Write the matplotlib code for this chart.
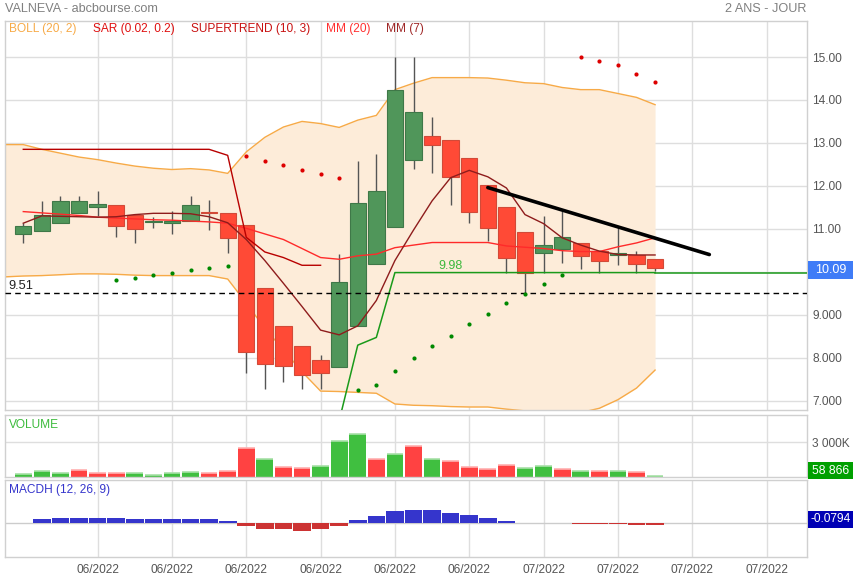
import numpy as np
import matplotlib
matplotlib.use('Agg')
import matplotlib.pyplot as plt
from matplotlib.patches import Rectangle
from matplotlib.transforms import blended_transform_factory

plt.rcParams['font.family'] = ['Liberation Sans', 'DejaVu Sans']

# ---------------- data ----------------
opens  = [10.89, 10.95, 11.14, 11.37, 11.51, 11.55, 11.32, 11.16, 11.14, 11.17,
          11.37, 11.36, 11.09, 9.61, 8.73, 8.26, 7.94, 7.78, 8.74, 10.17,
          11.03, 12.61, 13.17, 13.06, 12.64, 12.01, 11.50, 10.92, 10.43, 10.52,
          10.66, 10.49, 10.38, 10.39, 10.29]
highs  = [11.14, 11.64, 11.77, 11.77, 11.88, 11.55, 11.32, 11.27, 11.41, 11.77,
          11.67, 11.36, 11.09, 9.61, 8.73, 8.26, 8.05, 10.41, 12.58, 12.73,
          15.00, 15.00, 13.60, 13.06, 12.64, 12.01, 11.50, 10.92, 11.29, 11.42,
          10.66, 10.49, 11.03, 10.49, 10.29]
lows   = [10.67, 10.95, 11.14, 11.37, 11.30, 10.81, 10.66, 11.02, 10.89, 11.17,
          10.97, 10.44, 7.65, 7.27, 7.44, 7.27, 7.27, 7.78, 8.74, 10.17,
          11.03, 12.40, 12.30, 11.56, 11.13, 10.72, 9.96, 9.48, 9.98, 10.21,
          10.07, 9.98, 10.16, 9.98, 10.02]
closes = [11.06, 11.33, 11.64, 11.64, 11.57, 11.07, 11.00, 11.18, 11.19, 11.55,
          11.36, 10.78, 8.13, 7.85, 7.80, 7.59, 7.64, 9.76, 11.59, 11.87,
          14.23, 13.71, 12.96, 12.20, 11.38, 11.01, 10.33, 9.97, 10.62, 10.80,
          10.36, 10.24, 10.44, 10.17, 10.09]

# Bollinger (20, 2), index 0..35
boll_upper = [12.96, 12.96, 12.85, 12.76, 12.67, 12.61, 12.53, 12.46, 12.41, 12.38,
              12.40, 12.37, 12.29, 12.79, 13.13, 13.37, 13.50, 13.45, 13.36, 13.53,
              13.64, 14.24, 14.39, 14.52, 14.52, 14.52, 14.51, 14.46, 14.40, 14.38,
              14.29, 14.24, 14.24, 14.15, 14.06, 13.89]
boll_lower = [9.88, 9.90, 9.91, 9.93, 9.95, 9.95, 9.94, 9.92, 9.91, 9.91,
              9.91, 9.91, 9.83, 9.27, 8.68, 8.18, 7.67, 7.22, 7.21, 7.19,
              7.17, 6.92, 6.89, 6.88, 6.86, 6.85, 6.85, 6.80, 6.76, 6.72,
              6.70, 6.72, 6.82, 7.02, 7.29, 7.71]

# moving averages, index 1..35
mm20 = [11.40, 11.37, 11.34, 11.31, 11.27, 11.25, 11.23, 11.21, 11.20, 11.18,
        11.16, 11.13, 11.01, 10.88, 10.75, 10.54, 10.33, 10.29, 10.37, 10.41,
        10.56, 10.62, 10.68, 10.68, 10.68, 10.68, 10.60, 10.57, 10.54, 10.49,
        10.47, 10.47, 10.58, 10.67, 10.79]
mm7 = [11.13, 11.30, 11.29, 11.28, 11.27, 11.28, 11.33, 11.36, 11.36, 11.35,
       11.28, 11.14, 10.75, 10.26, 9.73, 9.19, 8.64, 8.53, 8.74, 9.33,
       10.26, 10.97, 11.65, 12.19, 12.36, 12.21, 11.95, 11.33, 11.12, 10.79,
       10.62, 10.48, 10.40, 10.39, 10.39]

nan = float('nan')
# Supertrend (10, 3), index 1..35
st_down = [12.85, 12.85, 12.85, 12.85, 12.85, 12.85, 12.85, 12.85, 12.85, 12.85,
           12.85, 12.71, 10.80, 10.46, 10.33, 10.15, 10.15] + [nan] * 18
st_up = [nan] * 17 + [6.53, 8.29, 8.47] + [9.98] * 15

# SAR (0.02, 0.2), index 1..35
sar_above = [nan] * 12 + [12.69, 12.57, 12.48, 12.37, 12.27, 12.19] + [nan] * 12 + \
            [15.00, 14.91, 14.81, 14.60, 14.41]
sar_below = [nan] * 5 + [9.81, 9.85, 9.93, 9.98, 10.04, 10.09, 10.13] + [nan] * 6 + \
            [7.25, 7.36, 7.68, 7.98, 8.26, 8.51, 8.78, 9.02, 9.28, 9.48, 9.72, 9.93] + [nan] * 5

# volume (thousands) and colours
volume = [204, 466, 291, 583, 291, 320, 320, 146, 320, 408,
          320, 524, 2505, 1515, 845, 728, 961, 3146, 3728, 1515,
          1981, 2680, 1544, 1398, 845, 641, 1049, 728, 903, 670,
          466, 524, 466, 379, 59]
vol_up = ['g', 'g', 'g', 'r', 'r', 'r', 'g', 'g', 'g', 'g',
          'r', 'r', 'r', 'g', 'r', 'r', 'g', 'g', 'g', 'r',
          'g', 'r', 'g', 'r', 'r', 'r', 'r', 'g', 'g', 'r',
          'g', 'r', 'g', 'r', 'g']

# MACD histogram (12, 26, 9)
macdh = [nan, 0.22, 0.27, 0.27, 0.27, 0.24, 0.22, 0.22, 0.22, 0.22,
         0.22, 0.13, -0.13, -0.25, -0.29, -0.35, -0.29, -0.11, 0.16, 0.35,
         0.60, 0.65, 0.65, 0.49, 0.40, 0.25, 0.13, 0.01, 0.0, 0.0,
         -0.03, -0.03, -0.03, -0.08, -0.0794]

trend_x = [26, 37.92]
trend_y = [11.96, 10.40]
support_level = 9.51
st_level = 9.98
last_price = 10.09
last_volume = '58 866'
last_macdh = '-0.0794'

date_ticks = [5, 9, 13, 17, 21, 25, 29, 33, 37, 41]
date_labels = ['06/2022'] * 6 + ['07/2022'] * 4
price_ticks = [7, 8, 9, 11, 12, 13, 14, 15]
price_labels = ['7.000', '8.000', '9.000', '11.00', '12.00', '13.00', '14.00', '15.00']

# ---------------- figure ----------------
W, H = 855, 580
FS = 8.6
fig = plt.figure(figsize=(W / 100, H / 100), dpi=100)
fig.patch.set_facecolor('white')


def rect(x0, y0, x1, y1):
    return [x0 / W, 1 - y1 / H, (x1 - x0) / W, (y1 - y0) / H]


def label_box(y0, y1, text, color, fs):
    fig.patches.append(Rectangle((808 / W, 1 - y1 / H), 45 / W, (y1 - y0) / H,
                                 transform=fig.transFigure, fc=color, ec='none', zorder=10))
    fig.text(830.5 / W, 1 - (y0 + y1) / 2 / H, text, fontsize=fs, color='white',
             va='center', ha='center', zorder=11)


ax = fig.add_axes(rect(4.7, 20.5, 806.7, 410))
axv = fig.add_axes(rect(4.7, 414.7, 806.7, 476.7))
axm = fig.add_axes(rect(4.7, 480.3, 806.7, 557.3))

XMAX = 43.16
GRID = '#dedede'
for a in (ax, axv, axm):
    a.set_xlim(0, XMAX)
    for s in a.spines.values():
        s.set_color('#d0d0d0')
        s.set_linewidth(1)
    a.set_xticks([])
    a.tick_params(length=0)
    for gx in date_ticks:
        a.axvline(gx, color=GRID, lw=1, zorder=0)
    a.yaxis.tick_right()

# main
ax.set_ylim(6.78, 15.85)
for gy in range(7, 16):
    ax.axhline(gy, color=GRID, lw=1, zorder=0)
ax.set_yticks(price_ticks)
ax.set_yticklabels(price_labels, fontsize=FS, color='#555555')
ax.tick_params(axis='y', pad=4)

xb = np.arange(0, 36)
xi = np.arange(1, 36)
ax.fill_between(xb, boll_lower, boll_upper, color='#fdecd9', lw=0, zorder=1)
ax.plot(xb, boll_upper, color='#f7aa47', lw=1, zorder=2)
ax.plot(xb, boll_lower, color='#f7aa47', lw=1, zorder=2)
ax.plot([0, 0], [boll_lower[0], boll_upper[0]], color='#f7aa47', lw=1.5, zorder=2)

ax.plot(xi, mm20, color='#ff2a2a', lw=1, zorder=4)
ax.plot(xi, mm7, color='#8e1c1c', lw=1, zorder=4)
ax.plot(xi, st_down, color='#b80000', lw=1.0, zorder=4)
ax.plot(xi, st_up, color='#1a9a1a', lw=1.1, zorder=4)
ax.plot([35, XMAX], [st_level, st_level], color='#1a9a1a', lw=1.1, zorder=4)

ax.scatter(xi, sar_above, s=9, color='#dd0000', zorder=5, linewidths=0)
ax.scatter(xi, sar_below, s=9, color='#008800', zorder=5, linewidths=0)

ax.axhline(support_level, color='black', lw=1, ls=(0, (4, 3)), zorder=4)

# candles
o = np.array(opens); c = np.array(closes)
hi = np.array(highs); lo = np.array(lows)
up = c >= o
ax.vlines(xi, lo, hi, color='#555555', lw=1, zorder=3)
body_bottom = np.minimum(o, c)
body_h = np.maximum(np.abs(c - o), 0.03)
ax.bar(xi[up], body_h[up], bottom=body_bottom[up], width=0.88,
       color='#50965a', edgecolor='#3f7848', lw=0.8, zorder=3.5)
ax.bar(xi[~up], body_h[~up], bottom=body_bottom[~up], width=0.88,
       color='#ff4a36', edgecolor='#d24a38', lw=0.8, zorder=3.5)

ax.plot(trend_x, trend_y, color='black', lw=2.6, zorder=6, solid_capstyle='round')

ax.text(0.005, 9.66, '9.51', transform=blended_transform_factory(ax.transAxes, ax.transData),
        fontsize=FS + 0.6, color='#222222', va='center', ha='left', zorder=7)
ax.text(24.0, 10.13, '9.98', fontsize=FS + 0.4, color='#3cb83c', va='center', ha='center', zorder=7)

label_box(261, 279, f'{last_price:.2f}', '#3f7cf7', FS + 0.4)

# legend
leg = [(9.3, 'BOLL (20, 2)', '#f7aa47'), (92.7, 'SAR (0.02, 0.2)', '#e01010'),
       (190.7, 'SUPERTREND (10, 3)', '#c81010'), (326, 'MM (20)', '#ff3030'),
       (386, 'MM (7)', '#a02828')]
for lx, lt, lc in leg:
    fig.text(lx / W, 1 - 29 / H, lt, fontsize=FS, color=lc, va='center', ha='left')

fig.text(5 / W, 1 - 9 / H, 'VALNEVA - abcbourse.com', fontsize=9.1, color='#808080',
         va='center', ha='left')
fig.text(806 / W, 1 - 9 / H, '2 ANS - JOUR', fontsize=9.1, color='#808080',
         va='center', ha='right')

# volume
axv.set_ylim(0, 5410)
axv.axhline(3000, color=GRID, lw=1, zorder=0)
axv.set_yticks([3000])
axv.set_yticklabels(['3 000K'], fontsize=FS, color='#555555')
axv.tick_params(axis='y', pad=4)
vcol = {'g': '#40bf40', 'r': '#ff4242'}
vlight = {'g': '#a8e0a8', 'r': '#ffb0b0'}
vol = np.array(volume, dtype=float)
axv.bar(xi, vol, width=0.9, color=[vcol[k] for k in vol_up], lw=0, zorder=2)
axv.hlines(vol, xi - 0.45, xi + 0.45, colors=[vlight[k] for k in vol_up], lw=1.2, zorder=3)
axv.text(0.005, 0.84, 'VOLUME', transform=axv.transAxes, fontsize=FS, color='#3cbb3c',
         va='center', ha='left')
label_box(462, 479, last_volume, '#00a000', FS + 0.2)

# MACD
axm.set_ylim(-1.62, 2.05)
axm.axhline(0, color='#cccccc', lw=1, zorder=0)
axm.set_yticks([])
mh = np.array(macdh, dtype=float)
mcol = ['#3535cc' if (v >= 0) else '#cc3333' for v in np.nan_to_num(mh)]
axm.bar(xi, np.nan_to_num(mh), width=0.95, color=mcol, lw=0, zorder=2)
axm.text(0.005, 0.88, 'MACDH (12, 26, 9)', transform=axm.transAxes, fontsize=FS,
         color='#3535cc', va='center', ha='left')
label_box(511, 528, last_macdh, '#0000b4', FS)

# date labels
for gx, lab in zip(date_ticks, date_labels):
    px = 4.7 + gx * (802 / XMAX)
    fig.text(px / W, 1 - 570 / H, lab, fontsize=FS, color='#555555', va='center', ha='center')

fig.savefig('out.png', dpi=100, facecolor='white')
